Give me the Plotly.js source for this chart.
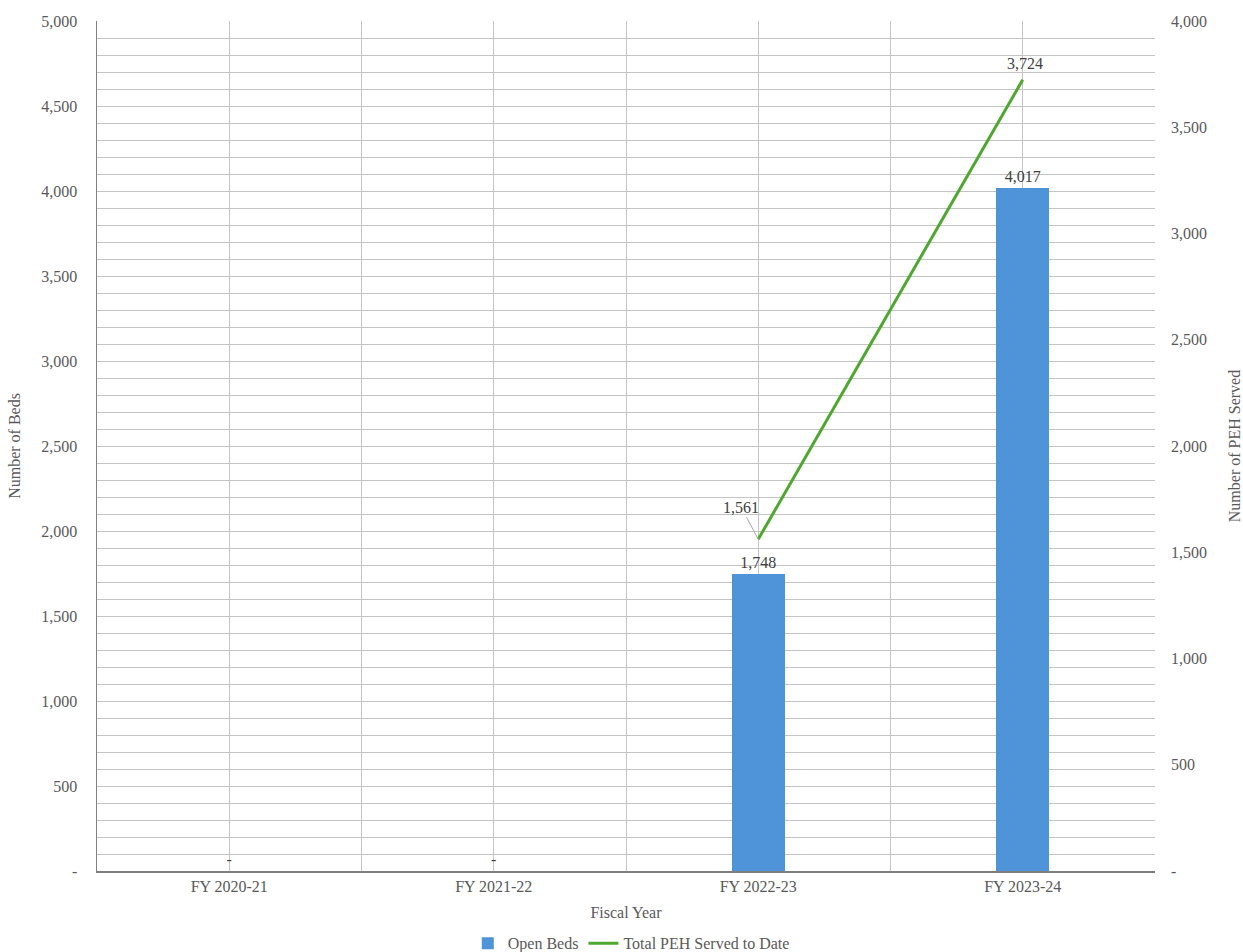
<!DOCTYPE html>
<html>
<head>
<meta charset="utf-8">
<script src="https://cdn.plot.ly/plotly-3.0.1.min.js"></script>
<style>html,body{margin:0;padding:0;background:#fff;}#chart{width:1243px;height:952px;}</style>
</head>
<body>
<div id="chart"></div>
<script>
const categories = ['FY 2020-21', 'FY 2021-22', 'FY 2022-23', 'FY 2023-24'];
const openBeds = [0, 0, 1748, 4017];
const pehServed = [null, null, 1561, 3724];
const leftTicks = [0, 500, 1000, 1500, 2000, 2500, 3000, 3500, 4000, 4500, 5000];
const rightTicks = [0, 500, 1000, 1500, 2000, 2500, 3000, 3500, 4000];

const fmt = v => v === 0 ? '-' : v.toLocaleString('en-US');
const FONT = '"Liberation Serif", "Times New Roman", serif';
const TXT = '#595959';
const FS = 16;

const xIdx = categories.map((c, i) => i);
const xTickVals = [];
const xTickText = [];
for (let i = 0; i < categories.length; i++) {
  xTickVals.push(i - 0.5, i);
  xTickText.push('', categories[i]);
}
xTickVals.push(categories.length - 0.5);
xTickText.push('');

const traces = [
  {
    type: 'bar', name: 'Open Beds', x: xIdx, y: openBeds, width: 0.2,
    marker: {color: '#4F94D9'},
    text: openBeds.map(fmt), textposition: 'outside', cliponaxis: false,
    textfont: {family: FONT, size: FS, color: '#404040'},
    hoverinfo: 'none'
  },
  {
    type: 'scatter', mode: 'lines', name: 'Total PEH Served to Date', x: xIdx, y: pehServed,
    yaxis: 'y2', line: {color: '#4EA72E', width: 3}, connectgaps: false, hoverinfo: 'none'
  }
];

const annotations = [];
pehServed.forEach((v, i) => {
  if (v === null) return;
  if (i === 2) {
    annotations.push({x: xIdx[i], y: v, xref: 'x', yref: 'y2', text: fmt(v), showarrow: true,
      arrowhead: 0, arrowwidth: 1, arrowcolor: '#A6A6A6', ax: -17, ay: -32, standoff: 0,
      font: {family: FONT, size: FS, color: '#404040'}});
  } else {
    annotations.push({x: xIdx[i], y: v, xref: 'x', yref: 'y2', text: fmt(v), showarrow: false,
      yanchor: 'bottom', yshift: 6, xshift: 2, font: {family: FONT, size: FS, color: '#404040'}});
  }
});

const layout = {
  width: 1243, height: 952,
  margin: {l: 97, r: 88, t: 21, b: 81, autoexpand: false},
  paper_bgcolor: '#fff', plot_bgcolor: '#fff',
  font: {family: FONT, size: FS, color: TXT},
  showlegend: true,
  legend: {orientation: 'h', x: 0.505, xanchor: 'center', y: -0.085, yanchor: 'middle',
    font: {family: FONT, size: FS, color: TXT}, traceorder: 'normal', itemwidth: 30,
    tracegroupgap: 0},
  xaxis: {
    range: [-0.5, categories.length - 0.5], tickvals: xTickVals, ticktext: xTickText,
    showgrid: true, gridcolor: '#C4C4C4', gridwidth: 1, zeroline: false,
    showline: true, linecolor: '#7F7F7F', linewidth: 1.5, ticks: '',
    tickfont: {family: FONT, size: FS, color: TXT},
    title: {text: 'Fiscal Year', font: {family: FONT, size: FS, color: TXT}, standoff: 13},
    automargin: false, fixedrange: true
  },
  yaxis: {
    range: [0, 5000], tickvals: leftTicks, ticktext: leftTicks.map(fmt),
    showgrid: true, gridcolor: '#C4C4C4', gridwidth: 1, zeroline: false,
    minor: {dtick: 100, showgrid: true, gridcolor: '#C4C4C4', gridwidth: 1, ticks: ''},
    showline: true, linecolor: '#7F7F7F', linewidth: 1.5, ticks: '', ticklabelstandoff: 15,
    tickfont: {family: FONT, size: FS, color: TXT},
    title: {text: 'Number of Beds', font: {family: FONT, size: FS, color: TXT}, standoff: 16},
    automargin: false, fixedrange: true
  },
  yaxis2: {
    range: [0, 4000], tickvals: rightTicks, ticktext: rightTicks.map(fmt),
    overlaying: 'y', side: 'right', showgrid: false, zeroline: false, showline: false,
    ticks: '', ticklabelstandoff: 15,
    tickfont: {family: FONT, size: FS, color: TXT},
    title: {text: 'Number of PEH Served', font: {family: FONT, size: FS, color: TXT}, standoff: 25},
    automargin: false, fixedrange: true
  },
  annotations: annotations,
  bargap: 0
};

Plotly.newPlot('chart', traces, layout, {displayModeBar: false, staticPlot: true});
</script>
</body>
</html>
